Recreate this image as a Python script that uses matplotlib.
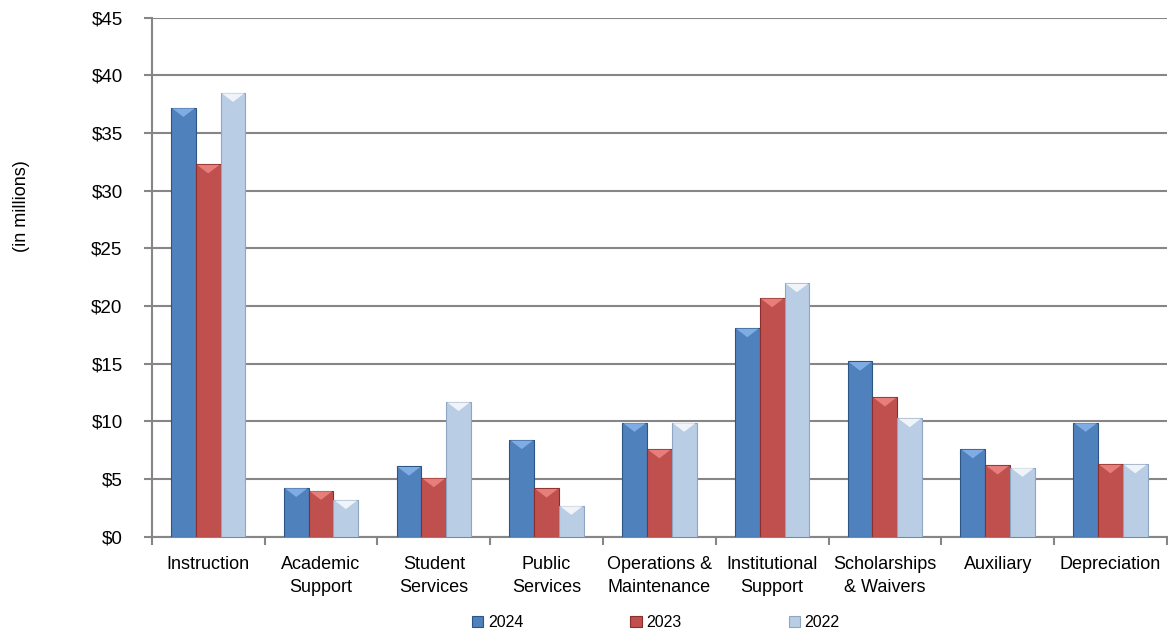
import matplotlib.pyplot as plt
from matplotlib.patches import Polygon
import numpy as np

plt.rcParams['font.family'] = ['Liberation Sans', 'DejaVu Sans']

# Data (in millions)

categories = ['Instruction', 'Academic\nSupport', 'Student\nServices', 'Public\nServices',
              'Operations &\nMaintenance', 'Institutional\nSupport', 'Scholarships\n& Waivers',
              'Auxiliary', 'Depreciation']
years = ['2024', '2023', '2022']
v2024 = [37.2, 4.25, 6.1, 8.4, 9.9, 18.1, 15.2, 7.6, 9.9]
v2023 = [32.3, 4.0, 5.1, 4.2, 7.6, 20.7, 12.1, 6.2, 6.3]
v2022 = [38.5, 3.2, 11.7, 2.7, 9.9, 22.0, 10.3, 6.0, 6.3]

colors = ['#4F81BD', '#C0504D', '#B9CDE5']
edges = ['#2C5485', '#8B2E2B', '#8FA6C2']
caps = ['#8DB8EE', '#F28A86', '#FFFFFF']

fig = plt.figure(figsize=(11.68, 6.33), dpi=100)
ax = fig.add_axes([0.130, 0.152, 0.869, 0.820])

x = np.arange(len(categories))
w = 0.22
for k, vals in enumerate([v2024, v2023, v2022]):
    bars = ax.bar(x + (k - 1) * w, vals, w, color=colors[k], edgecolor=edges[k],
                  linewidth=0.8, label=years[k], zorder=3)
    # small bevel cap on top of each bar
    for b in bars:
        x0 = b.get_x()
        x1 = x0 + b.get_width()
        h = b.get_height()
        d = min(0.8, h)
        ax.add_patch(Polygon([(x0 + 0.01, h - 0.05), (x1 - 0.01, h - 0.05), ((x0 + x1) / 2, h - d)],
                             closed=True, facecolor=caps[k], edgecolor='none', alpha=0.8, zorder=4))

ax.set_xlim(-0.5, len(categories) - 0.5)
ax.set_ylim(0, 45)
ax.set_yticks(range(0, 50, 5))
ax.set_yticklabels(['$%d' % v for v in range(0, 50, 5)], fontsize=13.5)

ax.set_xticks(x)
ax.set_xticklabels(categories, fontsize=13, linespacing=1.45)
ax.set_xticks(np.arange(-0.5, len(categories)), minor=True)
ax.tick_params(axis='x', which='major', length=0, pad=14)
ax.tick_params(axis='x', which='minor', length=6, color='#868686', width=1.5)
ax.tick_params(axis='y', length=6, color='#868686', width=1.5, pad=15)

ax.grid(axis='y', color='#868686', linewidth=1.5, zorder=0)
for s in ['top', 'right']:
    ax.spines[s].set_visible(False)
for s in ['left', 'bottom']:
    ax.spines[s].set_color('#868686')
    ax.spines[s].set_linewidth(1.5)

fig.text(0.018, 0.675, '(in millions)', rotation=90, fontsize=13, va='center', ha='center')

fig.legend(loc='center', bbox_to_anchor=(0.5616, 0.016), ncol=3, frameon=False,
           fontsize=11.5, handlelength=0.7, handleheight=0.7, handletextpad=0.3,
           columnspacing=6.7, borderpad=0)

fig.savefig('out.png', dpi=100)
